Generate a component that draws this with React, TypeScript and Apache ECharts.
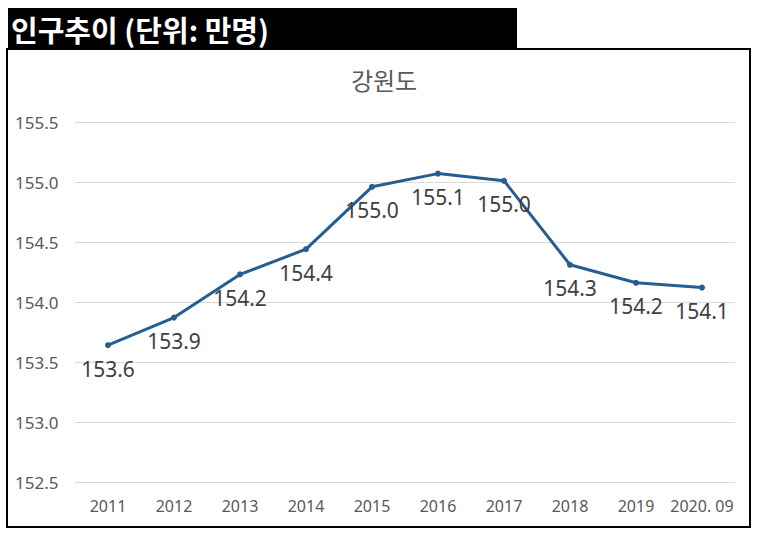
import React, { useEffect, useRef } from "react";
import * as echarts from "echarts";

const categories = ["2011", "2012", "2013", "2014", "2015", "2016", "2017", "2018", "2019", "2020. 09"];
const population = [153.64, 153.87, 154.23, 154.44, 154.96, 155.07, 155.01, 154.31, 154.16, 154.12];

const App = () => {
  const chartRef = useRef<HTMLDivElement>(null);

  useEffect(() => {
    document.body.style.margin = "0";
    // @ts-ignore
    const chart = echarts.init(chartRef.current, null, { renderer: "svg" });

    const options = {
      animation: false,
      backgroundColor: "#fff",
      title: {
        text: "강원도",
        left: 379,
        textAlign: "center",
        top: 62,
        textStyle: {
          fontFamily: "Noto Sans CJK KR",
          fontSize: 24,
          fontWeight: "normal",
          color: "#595959",
        },
      },
      graphic: [
        {
          type: "rect",
          shape: { x: 7, y: 49, width: 743, height: 478 },
          style: { fill: "none", stroke: "#000", lineWidth: 2 },
          z: 10,
        },
        {
          type: "rect",
          shape: { x: 8, y: 8, width: 509, height: 41 },
          style: { fill: "#000" },
          z: 10,
        },
        {
          type: "text",
          x: 11,
          y: 29,
          style: {
            text: "인구추이 (단위: 만명)",
            fill: "#fff",
            fontFamily: "Noto Sans CJK KR",
            fontWeight: "bold",
            fontSize: 29,
            verticalAlign: "middle",
          },
          z: 11,
        },
      ],
      grid: { left: 75, right: 24, top: 122, bottom: 54 },
      xAxis: {
        type: "category",
        data: categories,
        boundaryGap: true,
        axisLine: { show: false },
        axisTick: { show: false },
        axisLabel: {
          interval: 0,
          fontFamily: "Noto Sans",
          fontSize: 16,
          color: "#595959",
          margin: 16,
        },
      },
      yAxis: {
        type: "value",
        min: 152.5,
        max: 155.5,
        interval: 0.5,
        axisLabel: {
          fontFamily: "Noto Sans",
          fontSize: 17,
          color: "#595959",
          align: "left",
          margin: 60,
          formatter: (v: number) => v.toFixed(1),
        },
        splitLine: { lineStyle: { color: "#d9d9d9", width: 1 } },
      },
      series: [
        {
          type: "line",
          data: population,
          symbol: "circle",
          symbolSize: 6,
          lineStyle: { color: "#255e91", width: 3 },
          itemStyle: { color: "#255e91" },
          label: {
            show: true,
            position: "bottom",
            distance: 10,
            fontFamily: "Noto Sans",
            fontSize: 21,
            color: "#404040",
            formatter: (p: any) => p.value.toFixed(1),
          },
        },
      ],
    };

    chart.setOption(options);

    return () => {
      chart.dispose();
    };
  }, []);

  return <div ref={chartRef} style={{ width: "759px", height: "536px" }} />;
};

export default App;
